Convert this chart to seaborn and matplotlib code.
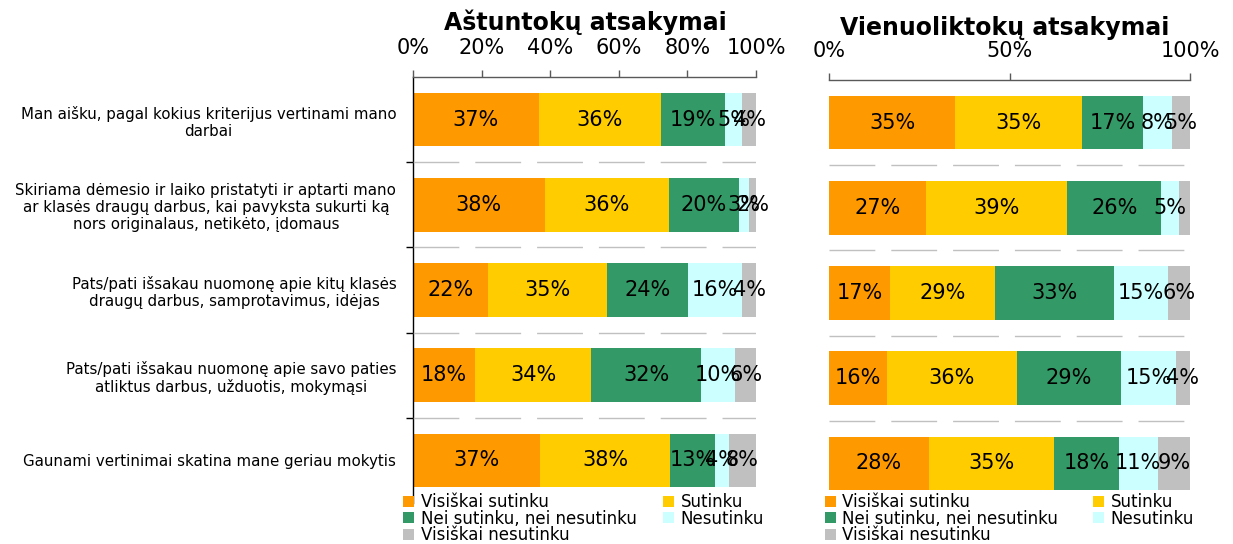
import numpy as np
import pandas as pd
import matplotlib
matplotlib.use("Agg")
import matplotlib.pyplot as plt
from matplotlib.patches import Patch
import seaborn as sns

# ---------------- data ----------------
categories = [
    "Man aišku, pagal kokius kriterijus vertinami mano\ndarbai",
    "Skiriama dėmesio ir laiko pristatyti ir aptarti mano\nar klasės draugų darbus, kai pavyksta sukurti ką\nnors originalaus, netikėto, įdomaus",
    "Pats/pati išsakau nuomonę apie kitų klasės\ndraugų darbus, samprotavimus, idėjas",
    "Pats/pati išsakau nuomonę apie savo paties\natliktus darbus, užduotis, mokymąsi",
    "Gaunami vertinimai skatina mane geriau mokytis",
]
series = ["Visiškai sutinku", "Sutinku", "Nei sutinku, nei nesutinku",
          "Nesutinku", "Visiškai nesutinku"]

# 8th graders (per category: values for each series)
grade8_visiskai_sutinku = [37, 38, 22, 18, 37]
grade8_sutinku = [36, 36, 35, 34, 38]
grade8_nei = [19, 20, 24, 32, 13]
grade8_nesutinku = [5, 3, 16, 10, 4]
grade8_visiskai_nesutinku = [4, 2, 4, 6, 8]

# 11th graders
grade11_visiskai_sutinku = [35, 27, 17, 16, 28]
grade11_sutinku = [35, 39, 29, 36, 35]
grade11_nei = [17, 26, 33, 29, 18]
grade11_nesutinku = [8, 5, 15, 15, 11]
grade11_visiskai_nesutinku = [5, 3, 6, 4, 9]
grade11_hidden_labels = [(1, 4)]  # (category, series) without visible label

title_left = "Aštuntokų atsakymai"
title_right = "Vienuoliktokų atsakymai"
ticks_left = [0, 20, 40, 60, 80, 100]
ticks_right = [0, 50, 100]

colors = ["#FF9900", "#FFCC00", "#339966", "#CCFFFF", "#C0C0C0"]

# ---------------- style ----------------
sns.set_style("white")
plt.rcParams["font.family"] = ["DejaVu Sans"]
plt.rcParams["text.color"] = "black"
plt.rcParams["xtick.labelcolor"] = "black"
plt.rcParams["ytick.labelcolor"] = "black"

W, H = 1233, 544
fig = plt.figure(figsize=(W / 100, H / 100), dpi=100)


def fbox(x0, x1, ytop, ybot):
    return [x0 / W, 1 - ybot / H, (x1 - x0) / W, (ybot - ytop) / H]


ax1 = fig.add_axes(fbox(413, 756, 77, 503))
ax2 = fig.add_axes(fbox(829, 1190, 80, 506))


def draw(ax, vals, ticks, show_labels, hidden=()):
    vals = np.array(vals, dtype=float)  # shape (series, cats)
    totals = vals.sum(axis=0)
    pct = vals / totals * 100.0
    cum = np.cumsum(pct, axis=0)
    df = pd.DataFrame({"cat": categories})
    # draw cumulative bars from the largest down so each segment shows
    for s in range(len(series) - 1, -1, -1):
        df["x"] = cum[s]
        sns.barplot(data=df, x="x", y="cat", orient="h", color=colors[s],
                    saturation=1, width=0.63, edgecolor="none", linewidth=0,
                    ax=ax)
    for s in range(len(series)):
        for i in range(len(categories)):
            if (i, s) in hidden:
                continue
            start = cum[s, i] - pct[s, i]
            ax.text(start + pct[s, i] / 2, i, f"{int(vals[s, i])}%",
                    ha="center", va="center", fontsize=15, color="black")
    ax.set_xlim(0, 100)
    ax.set_ylim(len(categories) - 0.5, -0.5)
    ax.set_xlabel("")
    ax.set_ylabel("")
    ax.xaxis.tick_top()
    ax.set_xticks(ticks)
    ax.set_xticklabels([f"{t}%" for t in ticks], fontsize=15, color="black")
    ax.tick_params(axis="x", which="major", direction="out", length=5,
                   width=1, color="#595959", pad=9, top=True, bottom=False)
    ax.set_yticks(range(len(categories)))
    ax.set_yticks(np.arange(0.5, len(categories) - 0.5, 1.0), minor=True)
    ax.tick_params(axis="y", which="major", length=0, pad=12)
    ax.yaxis.grid(True, which="minor", color="#c0c0c0",
                  linestyle=(0, (33, 11.5)), linewidth=1)
    ax.xaxis.grid(False)
    ax.set_axisbelow(False)
    for sp in ["right", "bottom"]:
        ax.spines[sp].set_visible(False)
    ax.spines["top"].set_color("#595959")
    ax.spines["top"].set_linewidth(1)
    if show_labels:
        ax.set_yticklabels(categories, fontsize=10.8, ha="right",
                           multialignment="center", color="black")
        ax.spines["left"].set_color("black")
        ax.spines["left"].set_linewidth(1)
        ax.tick_params(axis="y", which="minor", direction="out", length=5,
                       width=1, color="black", left=True)
    else:
        ax.set_yticklabels([])
        ax.spines["left"].set_visible(False)
        ax.tick_params(axis="y", which="minor", length=0)


draw(ax1, [grade8_visiskai_sutinku, grade8_sutinku, grade8_nei,
           grade8_nesutinku, grade8_visiskai_nesutinku],
     ticks_left, True)
draw(ax2, [grade11_visiskai_sutinku, grade11_sutinku, grade11_nei,
           grade11_nesutinku, grade11_visiskai_nesutinku],
     ticks_right, False, hidden=grade11_hidden_labels)

fig.text(585 / W, 1 - 30 / H, title_left, ha="center", va="baseline",
         fontsize=17, fontweight="bold", color="black")
fig.text(1005 / W, 1 - 35 / H, title_right, ha="center", va="baseline",
         fontsize=17, fontweight="bold", color="black")

# legends (row-wise order -> column-major for matplotlib)
order = [0, 2, 4, 1, 3]
handles = [Patch(facecolor=colors[k], edgecolor="none") for k in order]
labels = [series[k] for k in order]
for x0, cs in ((403, 1.6), (825, 2.1)):
    fig.legend(handles, labels, loc="upper left",
               bbox_to_anchor=(x0 / W, 1 - 493 / H), bbox_transform=fig.transFigure,
               ncol=2, frameon=False, fontsize=12, borderpad=0, borderaxespad=0,
               handlelength=0.65, handleheight=0.65, handletextpad=0.4,
               labelspacing=-0.08, columnspacing=cs, labelcolor="black")

fig.savefig("out.png", dpi=100)
